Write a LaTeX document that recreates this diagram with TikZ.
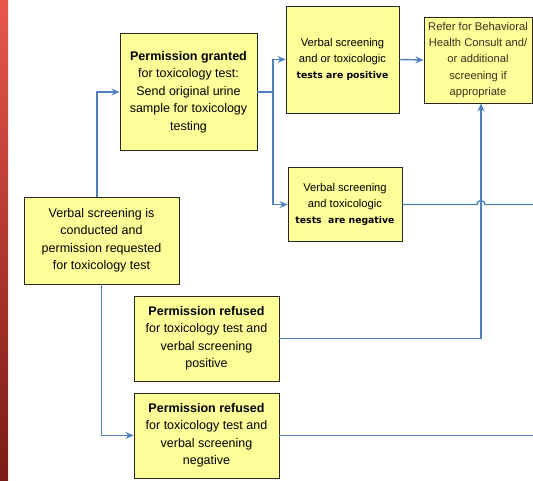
\documentclass[tikz,border=0pt]{standalone}
\usepackage{fontspec}
\setmainfont{Liberation Sans}
\newfontfamily\wideface{DejaVu Sans}
\usetikzlibrary{arrows.meta}

\definecolor{boxfill}{HTML}{FFFF99}
\definecolor{flowblue}{HTML}{4F81BD}
\definecolor{barlight}{HTML}{E9574B}
\definecolor{barmid}{HTML}{D0443A}
\definecolor{bardark}{HTML}{7A1A14}
\definecolor{refertext}{HTML}{3F2E1E}

\tikzset{
  card/.style={draw=black!85, fill=boxfill, line width=0.9pt, align=center, inner sep=1pt,
    font=\fontsize{12.5}{17.5}\selectfont},
  smallcard/.style={card, font=\fontsize{11.2}{16.2}\selectfont},
  flow/.style={draw=flowblue, line width=1.4pt, -{Stealth[length=8pt,width=7pt]}},
  wire/.style={draw=flowblue, line width=1.4pt}
}
\newcommand{\boldwide}[1]{{\wideface\bfseries\fontsize{9.3}{16}\selectfont #1}}

\begin{document}
\begin{tikzpicture}[x=1pt,y=-1pt]
  \useasboundingbox (0,0) rectangle (533,481);
  % red side bar
  \shade[top color=barlight, middle color=barmid, bottom color=bardark] (0,0) rectangle (8,481);

  % boxes
  \node[card, minimum width=137pt, minimum height=117pt] (grant) at (188.5,92)
    {\textbf{Permission granted}\\for toxicology test:\\Send original urine\\sample for toxicology\\testing};
  \node[card, minimum width=155pt, minimum height=87pt] (start) at (101.5,240.5)
    {Verbal screening is\\conducted and\\permission requested\\for toxicology test};
  \node[smallcard, minimum width=113pt, minimum height=107pt] (pos) at (342.5,59.5)
    {Verbal screening\\and or toxicologic\\\boldwide{tests are positive}};
  \node[smallcard, minimum width=114pt, minimum height=74pt] (neg) at (345,204.5)
    {Verbal screening\\and toxicologic\\\boldwide{tests\ \ are negative}};
  \node[smallcard, text=refertext, minimum width=108pt, minimum height=86pt] (refer) at (478,60)
    {Refer for Behavioral\\Health Consult and/\\or additional\\screening if\\appropriate};
  \node[card, minimum width=145pt, minimum height=85pt] (rpos) at (206.5,338.5)
    {\textbf{Permission refused}\\for toxicology test and\\verbal screening\\positive};
  \node[card, minimum width=145pt, minimum height=85pt] (rneg) at (206.5,435.5)
    {\textbf{Permission refused}\\for toxicology test and\\verbal screening\\negative};

  % free ends and joints
  \coordinate (split) at (273,92);
  \coordinate (negend) at (533,204.5);
  \coordinate (rnegend) at (533,435.5);

  % connectors
  \draw[flow] ([xshift=-4.5pt]start.north) |- (grant.west);
  \draw[wire] (grant.east) -- (split);
  \draw[flow] (split) |- (pos.west);
  \draw[flow] (split) |- (neg.west);
  \draw[flow] (pos.east) -- (refer.west);
  \draw[flow] (rpos.east) -| ([xshift=3pt]refer.south);
  \draw[wire] (neg.east) -- (477,204.5) arc[start angle=180, end angle=0, radius=4pt] -- (negend);
  \draw[flow] (start.south) |- (rneg.west);
  \draw[wire] (rneg.east) -- (rnegend);
\end{tikzpicture}
\end{document}
